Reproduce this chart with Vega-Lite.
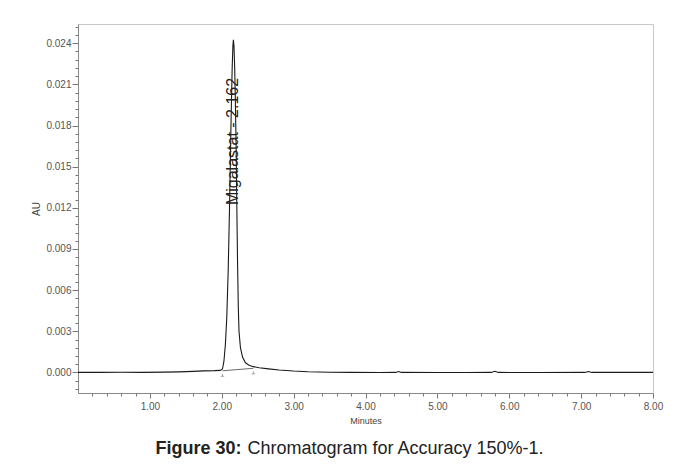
{
  "$schema": "https://vega.github.io/schema/vega-lite/v6.json",
  "width": 575,
  "height": 369,
  "autosize": "none",
  "padding": {"left": 78, "top": 24, "right": 23, "bottom": 79},
  "background": "white",
  "config": {
    "view": {"stroke": "#c8c8c8", "strokeWidth": 1},
    "axis": {
      "labelFont": "Liberation Sans Narrow, Liberation Sans",
      "labelFontSize": 10,
      "labelColor": "#555",
      "titleFont": "Liberation Sans Narrow, Liberation Sans",
      "titleFontWeight": "normal",
      "titleColor": "#444",
      "domainColor": "#888",
      "tickColor": "#777",
      "grid": false,
      "labelOverlap": false,
      "labelFlush": false,
      "labelBound": false
    }
  },
  "title": {
    "text": "Figure 30:",
    "subtitle": "Chromatogram for Accuracy 150%-1.",
    "orient": "bottom",
    "anchor": "middle",
    "frame": "group",
    "offset": 15,
    "font": "Liberation Sans",
    "fontSize": 18,
    "fontWeight": "bold",
    "color": "#222",
    "subtitleFont": "Liberation Sans",
    "subtitleFontSize": 18,
    "subtitleFontWeight": "normal",
    "subtitleColor": "#222",
    "subtitlePadding": -18,
    "dx": 30,
    "encoding": {"dx": {"value": -167}}
  },
  "datasets": {
    "trace": [
      {"t": 0.00, "au": 0.00000},
      {"t": 0.30, "au": 0.00000},
      {"t": 0.60, "au": 0.00001},
      {"t": 0.90, "au": 0.00000},
      {"t": 1.20, "au": 0.00002},
      {"t": 1.40, "au": 0.00004},
      {"t": 1.60, "au": 0.00008},
      {"t": 1.75, "au": 0.00011},
      {"t": 1.90, "au": 0.00013},
      {"t": 1.98, "au": 0.00015},
      {"t": 2.01, "au": 0.00025},
      {"t": 2.03, "au": 0.0008},
      {"t": 2.05, "au": 0.0020},
      {"t": 2.07, "au": 0.0040},
      {"t": 2.09, "au": 0.0075},
      {"t": 2.11, "au": 0.0125},
      {"t": 2.13, "au": 0.0185},
      {"t": 2.145, "au": 0.0222},
      {"t": 2.155, "au": 0.0238},
      {"t": 2.162, "au": 0.02425},
      {"t": 2.17, "au": 0.0238},
      {"t": 2.18, "au": 0.0222},
      {"t": 2.19, "au": 0.0196},
      {"t": 2.20, "au": 0.0165},
      {"t": 2.21, "au": 0.0120},
      {"t": 2.22, "au": 0.0080},
      {"t": 2.23, "au": 0.0048},
      {"t": 2.24, "au": 0.0030},
      {"t": 2.26, "au": 0.0018},
      {"t": 2.29, "au": 0.0011},
      {"t": 2.33, "au": 0.0007},
      {"t": 2.38, "au": 0.00052},
      {"t": 2.44, "au": 0.00042},
      {"t": 2.52, "au": 0.00034},
      {"t": 2.65, "au": 0.00026},
      {"t": 2.80, "au": 0.00018},
      {"t": 3.00, "au": 0.00010},
      {"t": 3.20, "au": 0.00005},
      {"t": 3.50, "au": 0.00001},
      {"t": 3.80, "au": 0.00000},
      {"t": 4.20, "au": -0.00001},
      {"t": 4.42, "au": 0.00000},
      {"t": 4.46, "au": 0.00007},
      {"t": 4.50, "au": 0.00000},
      {"t": 5.00, "au": -0.00001},
      {"t": 5.40, "au": -0.00001},
      {"t": 5.75, "au": 0.00000},
      {"t": 5.80, "au": 0.00008},
      {"t": 5.85, "au": 0.00000},
      {"t": 6.40, "au": -0.00001},
      {"t": 7.05, "au": 0.00000},
      {"t": 7.10, "au": 0.00007},
      {"t": 7.15, "au": 0.00000},
      {"t": 7.60, "au": 0.00000},
      {"t": 8.00, "au": 0.00000}
    ],
    "baseline": [
      {"t": 2.01, "au": 0.00012},
      {"t": 2.44, "au": 0.00030}
    ],
    "peak": [
      {"t": 2.162, "au": 0.0122, "label": "Migalastat - 2.162"}
    ]
  },
  "encoding": {
    "x": {
      "field": "t",
      "type": "quantitative",
      "scale": {"domain": [0, 8], "nice": false, "zero": false},
      "axis": {
        "title": "Minutes",
        "titleFontSize": 9,
        "titlePadding": 5,
        "values": [0.2, 0.4, 0.6, 0.8, 1, 1.2, 1.4, 1.6, 1.8, 2, 2.2, 2.4, 2.6, 2.8, 3, 3.2, 3.4, 3.6, 3.8, 4, 4.2, 4.4, 4.6, 4.8, 5, 5.2, 5.4, 5.6, 5.8, 6, 6.2, 6.4, 6.6, 6.8, 7, 7.2, 7.4, 7.6, 7.8, 8],
        "labelExpr": "abs(datum.value - round(datum.value)) < 0.01 ? format(datum.value, '.2f') : ''",
        "tickSize": {"condition": {"test": "abs(datum.value - round(datum.value)) < 0.01", "value": 5}, "value": 3},
        "labelPadding": 3
      }
    },
    "y": {
      "field": "au",
      "type": "quantitative",
      "scale": {"domain": [-0.0015, 0.0254], "nice": false, "zero": false},
      "axis": {
        "title": "AU",
        "titleFontSize": 10,
        "titlePadding": 4,
        "values": [-0.0012, -0.0006, 0, 0.0006, 0.0012, 0.0018, 0.0024, 0.003, 0.0036, 0.0042, 0.0048, 0.0054, 0.006, 0.0066, 0.0072, 0.0078, 0.0084, 0.009, 0.0096, 0.0102, 0.0108, 0.0114, 0.012, 0.0126, 0.0132, 0.0138, 0.0144, 0.015, 0.0156, 0.0162, 0.0168, 0.0174, 0.018, 0.0186, 0.0192, 0.0198, 0.0204, 0.021, 0.0216, 0.0222, 0.0228, 0.0234, 0.024, 0.0246, 0.0252],
        "labelExpr": "(datum.value > -0.0001 && abs(datum.value * 1000 / 3 - round(datum.value * 1000 / 3)) < 0.01) ? format(datum.value, '.3f') : ''",
        "tickSize": {"condition": {"test": "abs(datum.value * 1000 / 3 - round(datum.value * 1000 / 3)) < 0.01", "value": 6}, "value": 3},
        "labelPadding": 1
      }
    }
  },
  "layer": [
    {
      "data": {"name": "trace"},
      "mark": {"type": "line", "color": "#1a1a1a", "strokeWidth": 1.1}
    },
    {
      "data": {"name": "baseline"},
      "mark": {"type": "line", "color": "#444", "strokeWidth": 0.8}
    },
    {
      "data": {"name": "baseline"},
      "mark": {"type": "point", "shape": "M0,0L0,1M-0.7,1L0.7,1", "filled": false, "stroke": "#666", "strokeWidth": 0.8, "size": 25, "yOffset": 3}
    },
    {
      "data": {"name": "peak"},
      "mark": {"type": "text", "angle": 270, "align": "left", "baseline": "middle", "font": "Liberation Sans Narrow, Liberation Sans", "fontSize": 16, "color": "#222"},
      "encoding": {"text": {"field": "label"}}
    }
  ]
}
